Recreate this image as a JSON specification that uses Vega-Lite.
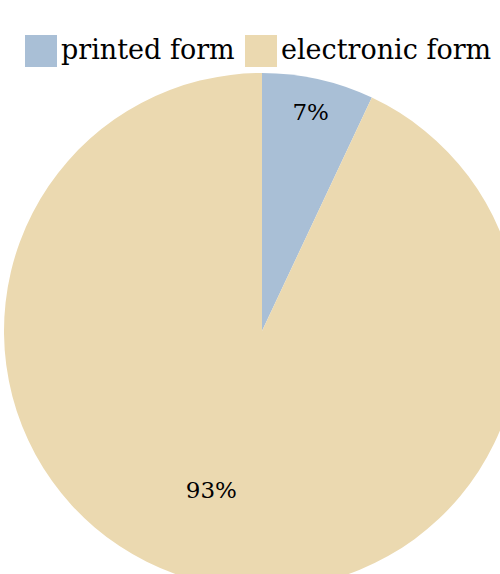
{
  "$schema": "https://vega.github.io/schema/vega-lite/v6.json",
  "width": 500,
  "height": 574,
  "autosize": "none",
  "padding": 0,
  "background": "white",
  "config": {"view": {"stroke": null}, "font": "DejaVu Serif"},
  "data": {"values": [
    {"form": "printed form", "share": 7, "label": "7%"},
    {"form": "electronic form", "share": 93, "label": "93%"}
  ]},
  "encoding": {
    "theta": {"field": "share", "type": "quantitative", "stack": true},
    "order": {"field": "share", "sort": "ascending"}
  },
  "layer": [
    {
      "mark": {"type": "arc", "x": 262, "y": 331, "outerRadius": 258},
      "encoding": {
        "color": {
          "field": "form", "type": "nominal",
          "scale": {"domain": ["printed form", "electronic form"], "range": ["#a9bfd6", "#ebd9b0"]},
          "legend": {
            "title": null, "orient": "none", "direction": "horizontal",
            "legendX": 25, "legendY": 35,
            "symbolType": "square", "symbolSize": 1024, "symbolStrokeWidth": 0,
            "labelFontSize": 27, "labelFont": "DejaVu Serif", "labelColor": "#000",
            "labelLimit": 400, "labelOffset": 4, "columnPadding": 10, "symbolOpacity": 1
          }
        }
      }
    },
    {
      "mark": {
        "type": "text", "x": 262, "y": 331,
        "radius": {"expr": "datum.share < 50 ? 223 : 168"},
        "dx": {"expr": "datum.share < 50 ? 0 : -14"},
        "dy": {"expr": "datum.share < 50 ? 0 : -4"},
        "fontSize": 23, "color": "#000", "font": "DejaVu Serif"
      },
      "encoding": {"text": {"field": "label"}}
    }
  ]
}
